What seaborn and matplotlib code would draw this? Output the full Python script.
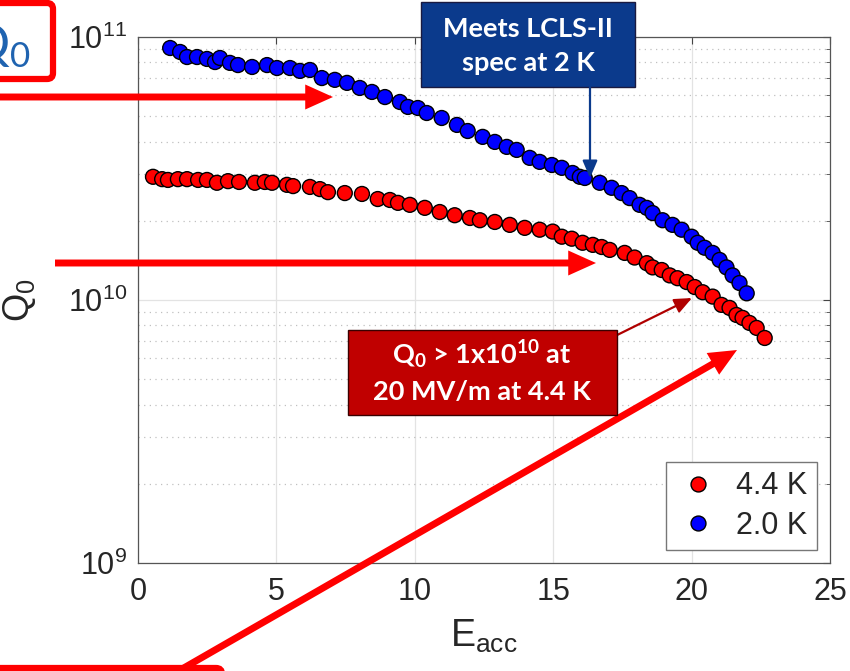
import seaborn as sns
import matplotlib.pyplot as plt
import pandas as pd
from matplotlib.patches import FancyArrowPatch, FancyBboxPatch, Rectangle, ArrowStyle
from matplotlib.ticker import LogLocator

# 2.0 K series
eacc_2k = [1.16, 1.52, 1.77, 2.13, 2.49, 2.78, 2.96, 3.32, 3.61, 4.12, 4.66, 5.02, 5.49,
           5.85, 6.21, 6.64, 7.11, 7.55, 8.01, 8.45, 8.92, 9.46, 9.75, 10.11, 10.43, 10.97,
           11.52, 11.91, 12.45, 12.89, 13.32, 13.68, 14.15, 14.51, 14.95, 15.31, 15.70,
           15.96, 16.14, 16.68, 17.11, 17.47, 17.76, 18.12, 18.38, 18.59, 18.95, 19.31,
           19.64, 20.00, 20.22, 20.47, 20.76, 21.01, 21.26, 21.48, 21.73, 21.99]
q0_2k = [9.08e10, 8.77e10, 8.39e10, 8.39e10, 8.25e10, 8.03e10, 8.32e10, 7.97e10, 7.82e10,
         7.69e10, 7.82e10, 7.62e10, 7.62e10, 7.43e10, 7.49e10, 6.98e10, 6.87e10, 6.69e10,
         6.40e10, 6.18e10, 5.91e10, 5.66e10, 5.42e10, 5.37e10, 5.14e10, 4.92e10, 4.63e10,
         4.39e10, 4.17e10, 3.99e10, 3.82e10, 3.72e10, 3.47e10, 3.35e10, 3.26e10, 3.18e10,
         3.04e10, 2.94e10, 2.91e10, 2.79e10, 2.67e10, 2.55e10, 2.44e10, 2.30e10, 2.24e10,
         2.14e10, 2.01e10, 1.93e10, 1.85e10, 1.74e10, 1.65e10, 1.58e10, 1.51e10, 1.42e10,
         1.33e10, 1.24e10, 1.16e10, 1.06e10]

# 4.4 K series
eacc_4k = [0.54, 0.87, 1.08, 1.44, 1.77, 2.17, 2.49, 2.85, 3.25, 3.65, 4.22, 4.58, 4.84,
           5.38, 5.60, 6.21, 6.57, 6.86, 7.47, 8.09, 8.66, 9.10, 9.39, 9.82, 10.36, 10.90,
           11.44, 11.99, 12.35, 12.89, 13.43, 13.97, 14.51, 14.98, 15.31, 15.67, 16.06,
           16.43, 16.75, 17.04, 17.58, 17.94, 18.38, 18.59, 18.92, 19.21, 19.49, 19.82,
           20.11, 20.40, 20.76, 21.08, 21.37, 21.62, 21.84, 22.09, 22.35, 22.64]
q0_4k = [2.94e10, 2.88e10, 2.86e10, 2.88e10, 2.88e10, 2.86e10, 2.86e10, 2.79e10, 2.83e10,
         2.81e10, 2.79e10, 2.81e10, 2.79e10, 2.74e10, 2.71e10, 2.69e10, 2.64e10, 2.57e10,
         2.55e10, 2.53e10, 2.42e10, 2.40e10, 2.34e10, 2.30e10, 2.24e10, 2.16e10, 2.10e10,
         2.05e10, 2.01e10, 1.98e10, 1.93e10, 1.88e10, 1.85e10, 1.82e10, 1.74e10, 1.71e10,
         1.65e10, 1.62e10, 1.59e10, 1.55e10, 1.51e10, 1.45e10, 1.38e10, 1.33e10, 1.30e10,
         1.24e10, 1.21e10, 1.17e10, 1.12e10, 1.07e10, 1.03e10, 0.958e10, 0.933e10,
         0.877e10, 0.855e10, 0.818e10, 0.783e10, 0.717e10]

labels = ['4.4 K', '2.0 K']

df = pd.DataFrame({
    'Eacc': eacc_4k + eacc_2k,
    'Q0': q0_4k + q0_2k,
    'T': [labels[0]] * len(eacc_4k) + [labels[1]] * len(eacc_2k),
})

sns.set_theme(style='white')
plt.rcParams['font.family'] = ['Liberation Sans', 'DejaVu Sans']
plt.rcParams['mathtext.default'] = 'regular'

fig = plt.figure(figsize=(8.5, 6.71), dpi=100)
ax = fig.add_axes([0.1624, 0.1610, 0.8141, 0.7839])

sns.scatterplot(data=df, x='Eacc', y='Q0', hue='T', hue_order=labels,
                palette={'4.4 K': '#ff0000', '2.0 K': '#0000ff'},
                s=115, edgecolor='black', linewidth=1.0, ax=ax, zorder=3)

ax.set_yscale('log')
ax.set_xlim(0, 25)
ax.set_ylim(1e9, 1e11)
ax.set_xticks([0, 5, 10, 15, 20, 25])
ax.yaxis.set_major_locator(LogLocator(base=10, numticks=5))
ax.yaxis.set_minor_locator(LogLocator(base=10, subs=range(2, 10), numticks=20))

ax.grid(True, which='major', color='#e3e3e3', lw=0.9, ls='-')
ax.grid(True, which='minor', axis='y', color='#c0c0c0', lw=0.9, ls=(0, (1, 3.5)))
ax.set_axisbelow(True)
for sp in ax.spines.values():
    sp.set_color('#555555')
    sp.set_linewidth(0.9)
ax.tick_params(which='both', direction='in', top=True, right=True, colors='#444444',
               labelcolor='#262626', labelsize=22)
ax.tick_params(which='major', length=5, width=0.8)
ax.tick_params(which='minor', length=3, width=0.6)
ax.tick_params(axis='x', pad=10)
ax.tick_params(axis='y', pad=8)

ax.set_xlabel('E$_{acc}$', fontsize=27, color='#262626')
ax.set_ylabel('Q$_0$', fontsize=26, color='#262626')
ax.xaxis.set_label_coords(0.5, -0.105)
ax.yaxis.set_label_coords(-0.145, 0.5)

sns.move_legend(ax, 'lower right', bbox_to_anchor=(0.981, 0.025), title=None,
                fontsize=22, frameon=True, fancybox=False, framealpha=1,
                edgecolor='#777777', handletextpad=0.5, borderpad=0.3,
                labelspacing=0.3, handlelength=1.5, markerscale=1.0,
                borderaxespad=0)

# overlay in pixel coordinates for the slide annotations
ov = fig.add_axes([0, 0, 1, 1], zorder=10)
ov.set_xlim(0, 850)
ov.set_ylim(671, 0)
ov.axis('off')
ov.patch.set_alpha(0)

thick = ArrowStyle('simple', head_length=2.0, head_width=1.8, tail_width=0.5)
for tail, tip in [((-5, 97), (333, 97)), ((55, 263), (596, 263)), ((175, 673), (737, 350))]:
    ov.add_patch(FancyArrowPatch(tail, tip, arrowstyle=thick, mutation_scale=10,
                                 color='#ff0000', lw=0, shrinkA=0, shrinkB=0))

# Q0 box top-left
ov.add_patch(FancyBboxPatch((-30, 3), 83, 76, boxstyle='round,pad=0,rounding_size=6',
                            fc='none', ec='#ff0000', lw=4.5))
ov.text(31, 60, 'Q$_0$', color='#1f63b0', fontsize=36, family='Lato', ha='right', va='baseline')
# bottom-left box, mostly cut off
ov.add_patch(FancyBboxPatch((-30, 668), 252, 40, boxstyle='round,pad=0,rounding_size=6',
                            fc='none', ec='#ff0000', lw=4.5))

# blue callout
ov.add_patch(Rectangle((421, 2), 214, 85, fc='#0b3a8c', ec='#1a1a40', lw=1))
ov.text(528, 29, 'Meets LCLS-II', color='white', fontsize=19.5, family='Lato',
        weight='bold', ha='center', va='center')
ov.text(528, 63, 'spec at 2 K', color='white', fontsize=19.5, family='Lato',
        weight='bold', ha='center', va='center')
ov.add_patch(FancyArrowPatch((590, 87), (590, 178), arrowstyle='-|>,head_length=0.7,head_width=0.3',
                             mutation_scale=15, color='#0b3a8c', lw=1.6, shrinkA=0, shrinkB=0))

# red callout
ov.add_patch(FancyArrowPatch((603, 342), (692, 298), arrowstyle='-|>,head_length=0.7,head_width=0.3',
                             mutation_scale=15, color='#b00000', lw=1.6, shrinkA=0, shrinkB=0))
ov.add_patch(Rectangle((348, 330), 269, 85, fc='#c00000', ec='#3a0000', lw=1))
ov.text(482, 355, 'Q$_0$ > 1x10$^{10}$ at', color='white', fontsize=19.5, family='Lato',
        weight='bold', ha='center', va='center')
ov.text(482, 392, '20 MV/m at 4.4 K', color='white', fontsize=19.5, family='Lato',
        weight='bold', ha='center', va='center')

fig.savefig('out.png', dpi=100)
